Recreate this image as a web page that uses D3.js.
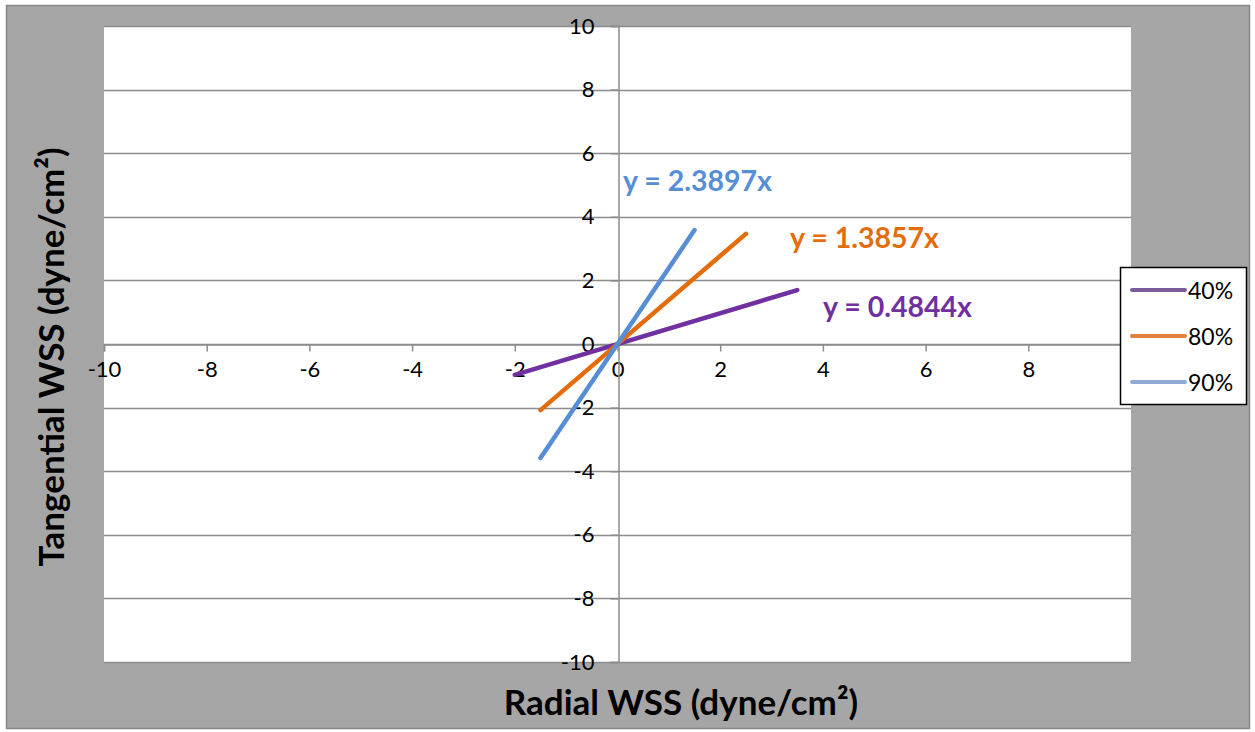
<!DOCTYPE html>
<html><head><meta charset="utf-8">
<script src="https://cdn.jsdelivr.net/npm/d3@7"></script>
<style>body{margin:0;background:#fff;}svg{display:block;font-family:Lato,"Open Sans",sans-serif;}</style>
</head><body>
<script>
const seriesNames = ["40%", "80%", "90%"];
const slopes = [0.4844, 1.3857, 2.3897];
const xStart = [-2, -1.5, -1.5];
const xEnd = [3.5, 2.5, 1.5];
const equationLabels = ["y = 0.4844x", "y = 1.3857x", "y = 2.3897x"];
const lineColors = ["#7030a0", "#e46c0a", "#558ed5"];
const legendColors = ["#7a5b9c", "#e0823d", "#8eaad6"];
const tickValues = [-10, -8, -6, -4, -2, 0, 2, 4, 6, 8, 10];

const W = 1255, H = 732;
const svg = d3.select("body").append("svg").attr("width", W).attr("height", H);
svg.append("rect").attr("x",0).attr("y",0).attr("width",W).attr("height",H).attr("fill","#fff");
svg.append("rect").attr("x",6.5).attr("y",5.5).attr("width",1243).attr("height",723)
  .attr("fill","#a6a6a6").attr("stroke","#868686").attr("stroke-width",1.5);

const x = d3.scaleLinear().domain([-10,10]).range([104,1131]);
const y = d3.scaleLinear().domain([-10,10]).range([662,26]);

svg.append("rect").attr("x",x(-10)).attr("y",y(10)).attr("width",x(10)-x(-10)).attr("height",y(-10)-y(10)).attr("fill","#fff");

// horizontal gridlines
svg.append("g").selectAll("line").data(tickValues).join("line")
  .attr("x1",x(-10)).attr("x2",x(10)).attr("y1",d=>Math.round(y(d))+0.5).attr("y2",d=>Math.round(y(d))+0.5)
  .attr("stroke","#8c8c8c").attr("stroke-width",1.5);

// axes
const xAxis = d3.axisBottom(x).tickValues(tickValues).tickSize(7).tickFormat(d=>String(d));
const gx = svg.append("g").attr("transform",`translate(0,${Math.round(y(0))+0.5})`).call(xAxis);
gx.select(".domain").attr("stroke","#8c8c8c").attr("stroke-width",1.5);
gx.selectAll(".tick line").attr("stroke","#8c8c8c").attr("stroke-width",1.5);
gx.selectAll(".tick text").attr("font-size",22).attr("fill","#000").attr("y",10).attr("dy","1em").attr("font-family","Lato,sans-serif");

const yAxis = d3.axisLeft(y).tickValues(tickValues).tickSize(8).tickFormat(d=>String(d));
const gy = svg.append("g").attr("transform",`translate(${Math.round(x(0))+0.5},0)`).call(yAxis);
gy.select(".domain").attr("stroke","#8c8c8c").attr("stroke-width",1.5);
gy.selectAll(".tick line").attr("stroke","#8c8c8c").attr("stroke-width",1.5);
gy.selectAll(".tick text").attr("font-size",22).attr("fill","#000").attr("x",-24).attr("font-family","Lato,sans-serif");

// series lines
const line = d3.line().x(d=>x(d[0])).y(d=>y(d[1]));
seriesNames.forEach((s,i)=>{
  const pts = [[xStart[i], slopes[i]*xStart[i]], [xEnd[i], slopes[i]*xEnd[i]]];
  svg.append("path").attr("d",line(pts)).attr("stroke",lineColors[i]).attr("stroke-width",4.5)
    .attr("stroke-linecap","round").attr("fill","none");
});

// equation labels
const eqPos = [[823,317],[790,248],[623,191]];
equationLabels.forEach((t,i)=>{
  svg.append("text").attr("x",eqPos[i][0]).attr("y",eqPos[i][1]).text(t)
    .attr("font-size",28.5).attr("font-weight","bold").attr("fill",lineColors[i]);
});

// legend
const lg = svg.append("g");
lg.append("rect").attr("x",1120.5).attr("y",267.5).attr("width",126).attr("height",137)
  .attr("fill","#fff").attr("stroke","#000").attr("stroke-width",1.5);
seriesNames.forEach((s,i)=>{
  const yy = 290 + i*46;
  lg.append("line").attr("x1",1132).attr("x2",1185).attr("y1",yy).attr("y2",yy)
    .attr("stroke",legendColors[i]).attr("stroke-width",4).attr("stroke-linecap","round");
  lg.append("text").attr("x",1188).attr("y",yy+8.5).text(s).attr("font-size",23).attr("fill","#000");
});

// axis titles
svg.append("text").attr("x",681).attr("y",715).attr("text-anchor","middle")
  .attr("font-size",35).attr("font-weight","bold").attr("fill","#000").text("Radial WSS (dyne/cm²)");
svg.append("text").attr("transform","translate(64,357) rotate(-90)").attr("text-anchor","middle")
  .attr("font-size",35).attr("font-weight","bold").attr("fill","#000").text("Tangential WSS (dyne/cm²)");
</script>
</body></html>
